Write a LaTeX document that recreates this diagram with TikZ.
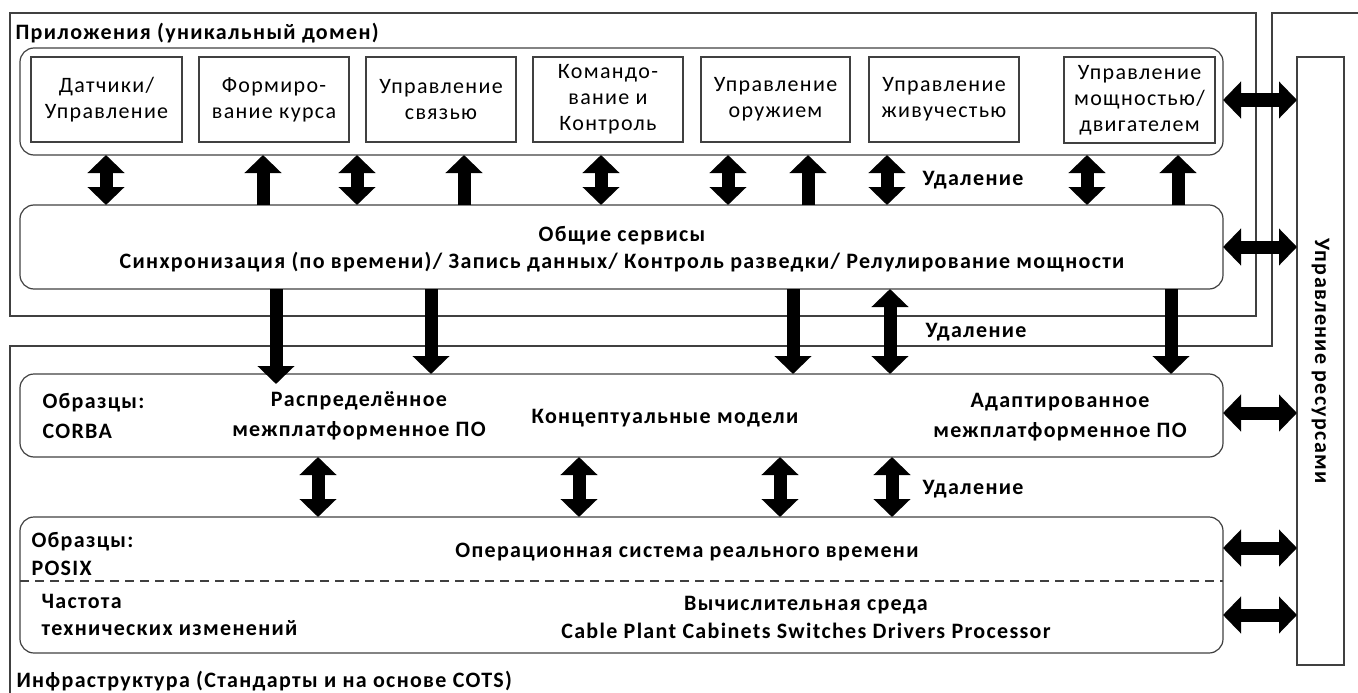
\documentclass[tikz,border=0pt]{standalone}
\usepackage{fontspec}
\setmainfont[LetterSpace=6]{Carlito}
\usetikzlibrary{arrows.meta}
\tikzset{
  frm/.style={draw=black!75, line width=1.2pt},
  rbox/.style={draw=black!75, line width=1.2pt, rounded corners=14pt, outer sep=0pt, anchor=north west},
  appbox/.style={draw=black!75, line width=1.2pt, outer sep=0pt, align=center, anchor=north west,
     font=\fontsize{22}{26}\selectfont, inner sep=0pt, minimum height=85pt},
  bl/.style={font=\fontsize{22}{27.5}\selectfont\bfseries},
  bll/.style={bl, align=center},
  blw/.style={font=\fontsize{22}{30}\selectfont\bfseries, align=center},
  blk/.style={line width=13pt, -{Triangle[width=36pt,length=18pt]}},
  dbl/.style={line width=13pt, {Triangle[width=36pt,length=18pt]}-{Triangle[width=36pt,length=18pt]}},
}
\begin{document}
\begin{tikzpicture}[x=1pt,y=-1pt]
\useasboundingbox (0,0) rectangle (1358,693);
% frames
\draw[frm] (10,13) rectangle (1256,316);
\draw[frm] (10,700) -- (10,346) -- (1272,346) -- (1272,13) -- (1360,13);
\node[bl, anchor=west] (tapps) at (12,33) {Приложения (уникальный домен)};
\node[bl, anchor=west] (tinfra) at (13,681) {Инфраструктура (Стандарты и на основе COTS)};
% resource box
\node[frm, outer sep=0pt, anchor=north west, minimum width=47pt, minimum height=608pt] (res) at (1297,57) {};
\node[bl, rotate=-90] (tres) at (res.center) {Управление ресурсами};
% applications
\node[rbox, minimum width=1203pt, minimum height=107pt] (apps) at (20,48) {};
\node[appbox, minimum width=151pt] (a1) at (31,57) {Датчики/\\Управление};
\node[appbox, minimum width=150pt] (a2) at (199,57) {Формиро-\\вание курса};
\node[appbox, minimum width=150pt] (a3) at (366,57) {Управление\\связью};
\node[appbox, minimum width=150pt] (a4) at (533,57) {Командо-\\вание и\\Контроль};
\node[appbox, minimum width=149pt] (a5) at (701,57) {Управление\\оружием};
\node[appbox, minimum width=150pt] (a6) at (869,57) {Управление\\живучестью};
\node[appbox, minimum width=151pt, minimum height=86pt] (a7) at (1064,57) {Управление\\мощностью/\\двигателем};
% common services
\node[rbox, minimum width=1203pt, minimum height=84pt] (cs) at (20,205) {};
\node[bll] (tcs) at (622,249) {Общие сервисы\\Синхронизация (по времени)/ Запись данных/ Контроль разведки/ Релулирование мощности};
% middleware
\node[rbox, minimum width=1203pt, minimum height=83pt] (mw) at (20,374) {};
\coordinate (mwin) at ([yshift=-10pt]mw.north);
\node[blw, align=left, anchor=west] (tmw1) at (39,416) {Образцы:\\CORBA};
\node[blw] (tmw2) at (359,416) {Распределённое\\межплатформенное ПО};
\node[bl] (tmw3) at (665,418) {Концептуальные модели};
\node[blw] (tmw4) at (1060,417) {Адаптированное\\межплатформенное ПО};
% OS / computing
\node[rbox, minimum width=1203pt, minimum height=136pt] (os) at (20,517) {};
\draw[black!75, line width=1.2pt, dash pattern=on 9pt off 6pt] (os.west |- 0,581) -- (os.east |- 0,581);
\node[bll, align=left, anchor=west] (tos1) at (28,554) {Образцы:\\POSIX};
\node[bl] (tos2) at (687,552) {Операционная система реального времени};
\node[bll, align=left, anchor=west] (tos3) at (38,615) {Частота\\технических изменений};
\node[bl] (tos4) at (806,605) {Вычислительная среда};
\node[bl] (tos5) at (806,631) {Cable Plant Cabinets Switches Drivers Processor};
% labels
\node[bl, anchor=west] (u1) at (919,180) {Удаление};
\node[bl, anchor=west] (u2) at (922,332) {Удаление};
\node[bl, anchor=west] (u3) at (919,489) {Удаление};
% arrows row 1
\foreach \x in {106,357,601,728,887,1087} \draw[dbl] (apps.south -| \x,0) -- (cs.north -| \x,0);
\foreach \x in {263,464,808,1178} \draw[blk] (cs.north -| \x,0) -- (apps.south -| \x,0);
% arrows row 2
\draw[blk] (cs.south -| 276,0) -- (mwin -| 276,0);
\foreach \x in {431,793,1171} \draw[blk] (cs.south -| \x,0) -- (mw.north -| \x,0);
\draw[dbl] (cs.south -| 890,0) -- (mw.north -| 890,0);
% arrows row 3
\foreach \x in {318,579,780,892} \draw[dbl] (mw.south -| \x,0) -- (os.north -| \x,0);
% horizontal arrows
\draw[dbl] (apps.east |- 0,100) -- (res.west |- 0,100);
\draw[dbl] (cs.east |- 0,247) -- (res.west |- 0,247);
\draw[dbl] (mw.east |- 0,413) -- (res.west |- 0,413);
\draw[dbl] (os.east |- 0,548) -- (res.west |- 0,548);
\draw[dbl] (os.east |- 0,615) -- (res.west |- 0,615);
\end{tikzpicture}
\end{document}
